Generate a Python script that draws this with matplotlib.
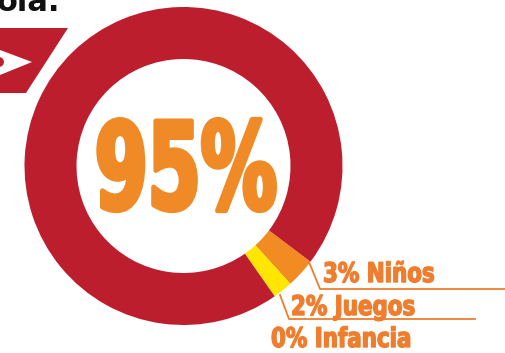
import matplotlib
matplotlib.use("Agg")
import matplotlib.pyplot as plt
from matplotlib.patches import Polygon, Circle
from matplotlib.patheffects import AbstractPathEffect
from matplotlib.transforms import Affine2D

# share of each category
categories = ["Niños", "Juegos", "Otros", "Infancia"]
shares = [3, 2, 95, 0]
ring_colors = ["#F28C22", "#FFE600", "#BC1E2D", "#BC1E2D"]
headline = "95%"

label_color = "#EF7D2E"
W, H = 505, 353


class Squeeze(AbstractPathEffect):
    """Narrow the glyphs horizontally around x0 (display pixels) and
    optionally fatten them with an outline of the fill colour."""

    def __init__(self, x0, sx, lw=0):
        super().__init__()
        self._t = Affine2D().translate(-x0, 0).scale(sx, 1).translate(x0, 0)
        self._lw = lw

    def draw_path(self, renderer, gc, tpath, affine, rgbFace=None):
        gc0 = renderer.new_gc()
        gc0.copy_properties(gc)
        if self._lw and rgbFace is not None:
            gc0.set_linewidth(self._lw)
            gc0.set_foreground(rgbFace)
            gc0.set_joinstyle("round")
        renderer.draw_path(gc0, tpath, affine + self._t, rgbFace)
        gc0.restore()


fig = plt.figure(figsize=(W / 100, H / 100), dpi=100)
ax = fig.add_axes([0, 0, 1, 1])

# donut ring, drawn in pixel units (y measured from the bottom)
cx, cy, r_out = 183.5, H - 166, 159
ax.pie(shares, radius=r_out, center=(cx, cy), colors=ring_colors,
       startangle=-37, counterclock=False,
       wedgeprops=dict(width=52, linewidth=0))

# big number in the middle
ax.text(186, H - 209, headline, color="#F08A26", fontsize=87,
        fontweight="bold", ha="center", va="baseline",
        path_effects=[Squeeze(186, 0.63, lw=3.5)])

# labels with leader lines
lbl = {c: s for c, s in zip(categories, shares)}
label_pos = {"Niños": (322, 282), "Juegos": (290, 315), "Infancia": (270, 347)}
for name, (x, y) in label_pos.items():
    ax.text(x + 1, H - y, f"{lbl[name]}% {name}", color=label_color, fontsize=19.5,
            fontweight="bold", ha="left", va="baseline",
            path_effects=[Squeeze(x + 1, 0.79, lw=1.0)])

ax.plot([309, 320, 505], [H - 262, H - 289, H - 289], color=label_color, lw=1.3)
ax.plot([280, 289, 475], [H - 295, H - 319, H - 319], color=label_color, lw=1.3)

# red tab with white arrow at the left
ax.add_patch(Polygon([(0, H - 28), (68, H - 28), (26, H - 93), (0, H - 93)],
                     closed=True, facecolor="#BC1E2D", edgecolor="none"))
ax.add_patch(Polygon([(0, H - 50), (32, H - 62), (0, H - 75)],
                     closed=True, facecolor="white", edgecolor="none"))
ax.add_patch(Circle((-1, H - 62), 6, facecolor="#BC1E2D", edgecolor="white", lw=1.5))

# tail of the heading line above
ax.text(-3, H - 11, "ola.", color="#111111", fontsize=22, fontweight="bold",
        ha="left", va="baseline")

ax.set_xlim(0, W)
ax.set_ylim(0, H)
ax.set_aspect("auto")
ax.axis("off")

fig.savefig("out.png", dpi=100)
